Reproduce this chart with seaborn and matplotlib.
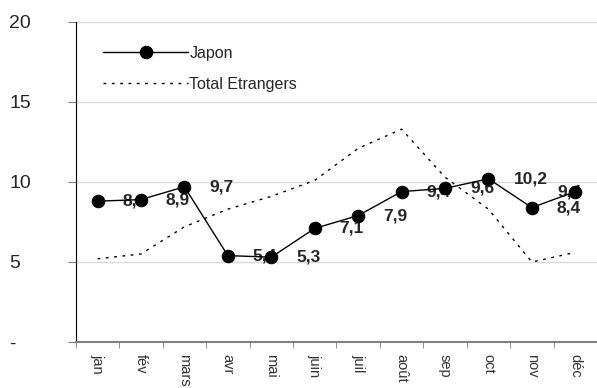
import seaborn as sns
import matplotlib.pyplot as plt
import pandas as pd
import numpy as np

mois = ['jan', 'fév', 'mars', 'avr', 'mai', 'juin', 'juil', 'août', 'sep', 'oct', 'nov', 'déc']
japon = [8.8, 8.9, 9.7, 5.4, 5.3, 7.1, 7.9, 9.4, 9.6, 10.2, 8.4, 9.4]
etrangers = [5.2, 5.5, 7.2, 8.3, 9.1, 10.1, 12.1, 13.3, 10.3, 8.3, 5.0, 5.6]

sns.set_style('white')
plt.rcParams['font.family'] = ['Liberation Sans', 'DejaVu Sans']

df = pd.DataFrame({'mois': mois, 'Japon': japon, 'Total Etrangers': etrangers})
df['x'] = np.arange(len(mois))

fig = plt.figure(figsize=(5.97, 3.88), dpi=100)
ax = fig.add_axes([0.127, 0.1186, 0.873, 0.8247])

sns.lineplot(x='x', y='Japon', data=df, ax=ax, color='black', lw=1.0,
             marker='o', markersize=9, markeredgecolor='black', label='Japon')
sns.lineplot(x='x', y='Total Etrangers', data=df, ax=ax, color='black', lw=1.0,
             linestyle=(0, (2, 4)), label='Total Etrangers')

# value labels, right of each point (last one pulled back to the left)
for i, v in enumerate(japon):
    txt = f'{v:.1f}'.replace('.', ',')
    dx = -13 if i == len(japon) - 1 else 18
    ax.annotate(txt, (i, v), xytext=(dx, 0), textcoords='offset points',
                ha='left', va='center', fontsize=12.5, fontweight='bold', zorder=1.9)

ax.set_xlim(-0.5, 11.5)
ax.set_ylim(0, 20)
ax.set_yticks([0, 5, 10, 15, 20])
ax.set_yticklabels(['-', '5', '10', '15', '20'])
ax.yaxis.grid(True, color='#d9d9d9', lw=1)
ax.set_axisbelow(True)

ax.set_xticks(np.arange(12))
ax.set_xticklabels(mois, rotation=270, fontsize=10.5, color='#333333')
ax.set_xticks(np.arange(12) - 0.5, minor=True)
ax.tick_params(axis='x', which='major', length=0, pad=9)
ax.tick_params(axis='x', which='minor', length=4, color='#808080', bottom=True)
ax.tick_params(axis='y', left=True, length=6, color='#808080', labelsize=14, pad=42)
for lab in ax.get_yticklabels():
    lab.set_ha('left')

ax.set_xlabel('')
ax.set_ylabel('')
sns.despine(ax=ax, top=True, right=True)
ax.spines['left'].set_color('black')
ax.spines['bottom'].set_color('#808080')
ax.spines['bottom'].set_linewidth(1.5)

ax.legend(loc='upper left', frameon=False, fontsize=11.5, handlelength=5.3,
          handletextpad=0.1, labelspacing=1.0, bbox_to_anchor=(0.025, 0.97))

fig.savefig('out.png', dpi=100)
